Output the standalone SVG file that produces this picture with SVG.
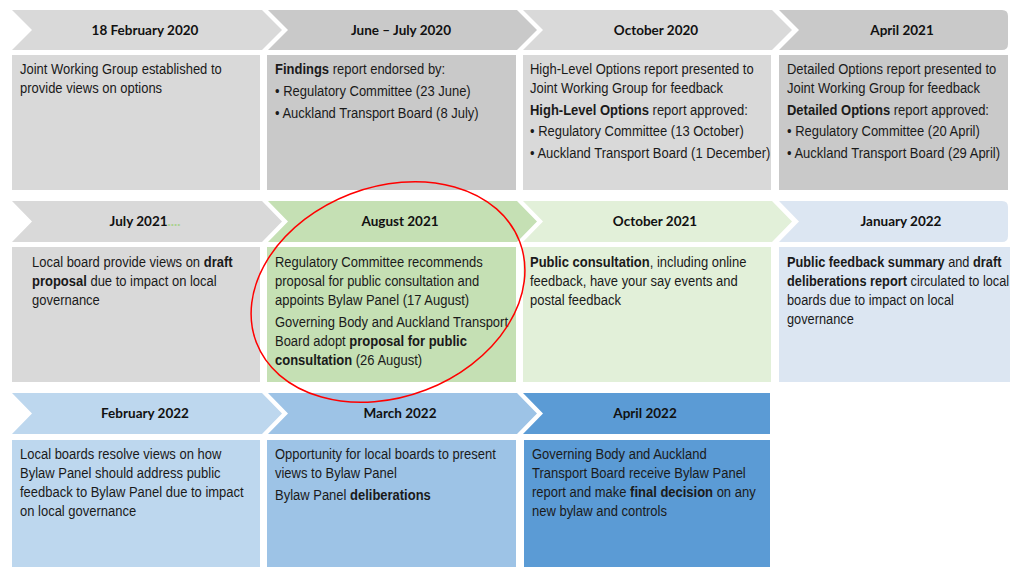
<svg xmlns="http://www.w3.org/2000/svg" width="1010" height="567" viewBox="0 0 1010 567">
<style>
.h{font-family:Lato,"Liberation Sans",sans-serif;font-weight:bold;font-size:13.5px;fill:#111;text-anchor:middle}
.t{font-family:"Liberation Sans",Arial,sans-serif;font-size:14.2px;fill:#1a1a1a}
.b{font-weight:bold}
.g1{fill:#d9d9d9}.g2{fill:#c9c9c9}.gr{fill:#c5e0b4}.lg{fill:#e2f0d9}.lb{fill:#dce6f2}.b1{fill:#bdd7ee}.b2{fill:#9dc3e6}.b3{fill:#5b9bd5}
</style>
<rect width="1010" height="567" fill="#ffffff"/>
<g id="n-feb2020">
<polygon class="g1" points="12,10 262,10 282,30 262,50 12,50 32,30"/>
<rect class="g1" x="12" y="55" width="248" height="135"/>
<text class="h" x="145" y="35">18 February 2020</text>
<g class="t" transform="translate(20 0) scale(0.915 1)">
<text x="0" y="74">Joint Working Group established to</text>
<text x="0" y="93">provide views on options</text>
</g>
</g>
<g id="n-junjul2020">
<polygon class="g2" points="268,10 517,10 537,30 517,50 268,50 288,30"/>
<rect class="g2" x="267" y="55" width="249" height="135"/>
<text class="h" x="401" y="35">June – July 2020</text>
<g class="t" transform="translate(275 0) scale(0.915 1)">
<text x="0" y="74"><tspan class="b">Findings</tspan> report endorsed by:</text>
<text x="0" y="96">• Regulatory Committee (23 June)</text>
<text x="0" y="118">• Auckland Transport Board (8 July)</text>
</g>
</g>
<g id="n-oct2020">
<polygon class="g1" points="523,10 772,10 792,30 772,50 523,50 543,30"/>
<rect class="g1" x="523" y="55" width="248" height="135"/>
<text class="h" x="656" y="35">October 2020</text>
<g class="t" transform="translate(530 0) scale(0.915 1)">
<text x="0" y="74">High-Level Options report presented to</text>
<text x="0" y="93">Joint Working Group for feedback</text>
<text x="0" y="115"><tspan class="b">High-Level Options</tspan> report approved:</text>
<text x="0" y="136">• Regulatory Committee (13 October)</text>
<text x="0" y="158">• Auckland Transport Board (1 December)</text>
</g>
</g>
<g id="n-apr2021">
<path class="g2" d="M779,10 H1002 Q1008,10 1008,16 V44 Q1008,50 1002,50 H779 L799,30 Z"/>
<rect class="g2" x="779" y="55" width="229" height="135"/>
<text class="h" x="902" y="35">April 2021</text>
<g class="t" transform="translate(787 0) scale(0.915 1)">
<text x="0" y="74">Detailed Options report presented to</text>
<text x="0" y="93">Joint Working Group for feedback</text>
<text x="0" y="115"><tspan class="b">Detailed Options</tspan> report approved:</text>
<text x="0" y="136">• Regulatory Committee (20 April)</text>
<text x="0" y="158">• Auckland Transport Board (29 April)</text>
</g>
</g>
<g id="n-jul2021">
<polygon class="g1" points="12,201 262,201 282,221.5 262,242 12,242 32,221.5"/>
<rect class="g1" x="12" y="247" width="248" height="135"/>
<text class="h" x="145" y="226">July 2021<tspan fill="#a9d18e">....</tspan></text>
<g class="t" transform="translate(32 0) scale(0.915 1)">
<text x="0" y="267">Local board provide views on <tspan class="b">draft</tspan></text>
<text x="0" y="286"><tspan class="b">proposal</tspan> due to impact on local</text>
<text x="0" y="305">governance</text>
</g>
</g>
<g id="n-aug2021">
<polygon class="gr" points="268,201 517,201 537,221.5 517,242 268,242 288,221.5"/>
<rect class="gr" x="267" y="247" width="249" height="135"/>
<text class="h" x="400" y="226">August 2021</text>
<g class="t" transform="translate(275 0) scale(0.915 1)">
<text x="0" y="267">Regulatory Committee recommends</text>
<text x="0" y="286">proposal for public consultation and</text>
<text x="0" y="305">appoints Bylaw Panel (17 August)</text>
<text x="0" y="327">Governing Body and Auckland Transport</text>
<text x="0" y="346">Board adopt <tspan class="b">proposal for public</tspan></text>
<text x="0" y="365"><tspan class="b">consultation</tspan> (26 August)</text>
</g>
</g>
<g id="n-oct2021">
<polygon class="lg" points="523,201 772,201 792,221.5 772,242 523,242 543,221.5"/>
<rect class="lg" x="523" y="247" width="248" height="135"/>
<text class="h" x="655" y="226">October 2021</text>
<g class="t" transform="translate(530 0) scale(0.915 1)">
<text x="0" y="267"><tspan class="b">Public consultation</tspan>, including online</text>
<text x="0" y="286">feedback, have your say events and</text>
<text x="0" y="305">postal feedback</text>
</g>
</g>
<g id="n-jan2022">
<path class="lb" d="M779,201 H1002 Q1008,201 1008,207 V236 Q1008,242 1002,242 H779 L799,221.5 Z"/>
<rect class="lb" x="779" y="247" width="231" height="135"/>
<text class="h" x="901" y="226">January 2022</text>
<g class="t" transform="translate(787 0) scale(0.9 1)">
<text x="0" y="267"><tspan class="b">Public feedback summary</tspan> and <tspan class="b">draft</tspan></text>
<text x="0" y="286"><tspan class="b">deliberations report</tspan> circulated to local</text>
<text x="0" y="305">boards due to impact on local</text>
<text x="0" y="324">governance</text>
</g>
</g>
<g id="n-feb2022">
<polygon class="b1" points="12,393 262,393 282,413.5 262,434 12,434 32,413.5"/>
<rect class="b1" x="12" y="440" width="248" height="127"/>
<text class="h" x="145" y="418">February 2022</text>
<g class="t" transform="translate(20 0) scale(0.915 1)">
<text x="0" y="459">Local boards resolve views on how</text>
<text x="0" y="478">Bylaw Panel should address public</text>
<text x="0" y="497">feedback to Bylaw Panel due to impact</text>
<text x="0" y="516">on local governance</text>
</g>
</g>
<g id="n-mar2022">
<polygon class="b2" points="268,393 517,393 537,413.5 517,434 268,434 288,413.5"/>
<rect class="b2" x="267" y="440" width="249" height="127"/>
<text class="h" x="400" y="418">March 2022</text>
<g class="t" transform="translate(275 0) scale(0.915 1)">
<text x="0" y="459">Opportunity for local boards to present</text>
<text x="0" y="478">views to Bylaw Panel</text>
<text x="0" y="500">Bylaw Panel <tspan class="b">deliberations</tspan></text>
</g>
</g>
<g id="n-apr2022">
<polygon class="b3" points="523,393 770,393 770,434 523,434 543,413.5"/>
<rect class="b3" x="524" y="440" width="246" height="127"/>
<text class="h" x="645" y="418">April 2022</text>
<g class="t" transform="translate(532 0) scale(0.915 1)">
<text x="0" y="459">Governing Body and Auckland</text>
<text x="0" y="478">Transport Board receive Bylaw Panel</text>
<text x="0" y="497">report and make <tspan class="b">final decision</tspan> on any</text>
<text x="0" y="516">new bylaw and controls</text>
</g>
</g>
<g id="connectors">
<ellipse cx="388" cy="292" rx="141" ry="105" transform="rotate(-21 388 292)" fill="none" stroke="#ff0000" stroke-width="1.5"/>
</g>
</svg>
